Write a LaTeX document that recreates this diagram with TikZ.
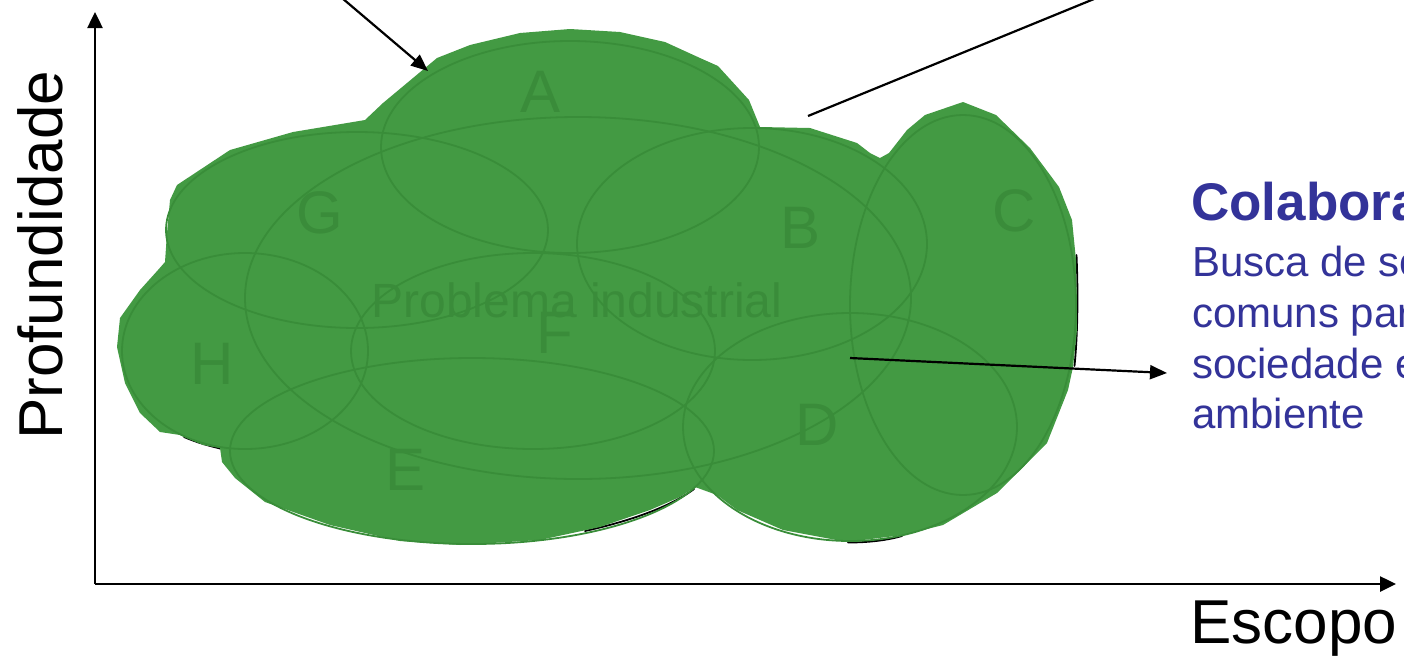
\documentclass[tikz,border=0pt]{standalone}
\usepackage{fontspec}
\setmainfont{Liberation Sans}
\usetikzlibrary{arrows.meta,shapes.geometric}
\definecolor{cloudgreen}{RGB}{67,154,67}
\definecolor{ringgreen}{RGB}{57,141,57}
\definecolor{labgreen}{RGB}{58,140,58}
\definecolor{navy}{RGB}{51,51,153}
\tikzset{
  ring/.style={ellipse, draw=ringgreen, line width=1.8pt, inner sep=0pt},
  biglabel/.style={text=labgreen, font=\fontsize{60}{60}\selectfont, inner sep=0pt},
  problabel/.style={text=labgreen, font=\fontsize{48}{48}\selectfont, inner sep=0pt},
  axislabel/.style={font=\fontsize{62}{62}\selectfont, inner sep=0pt},
  titletext/.style={text=navy, font=\bfseries\fontsize{53}{53}\selectfont, inner sep=0pt, anchor=base west},
  bodytext/.style={text=navy, font=\fontsize{42}{42}\selectfont, inner sep=0pt, anchor=base west},
  axisarrow/.style={line width=2.5pt, -{Triangle[length=16pt,width=15pt]}},
  pointer/.style={line width=2.2pt, -{Triangle[length=17pt,width=14pt]}},
  plainline/.style={line width=2.2pt},
  shadowline/.style={black, line width=1.8pt, line cap=round}
}
\begin{document}
\begin{tikzpicture}[x=1pt,y=-1pt]
\useasboundingbox (0,0) rectangle (1404,657);
\def\cloudpath{(165,262) -- (167,233) -- (170,200) -- (177,185) -- (230,150) -- (293,132) -- (365,120) -- (383,103) -- (437,58) -- (470,45) -- (520,33) -- (570,29) -- (620,32) -- (665,42) -- (700,58) -- (718,66) -- (749,100) -- (760,127) -- (810,128) -- (857,143) -- (870,153) -- (880,158) -- (889,153) -- (907,130) -- (925,115) -- (963,102) -- (996,115) -- (1030,148) -- (1059,187) -- (1072,220) -- (1076,260) -- (1077,330) -- (1073,367) -- (1068,390) -- (1047,443) -- (1017,473) -- (997,493) -- (943,525) -- (903,535) -- (847,542) -- (783,530) -- (737,510) -- (717,495) -- (695,487) -- (680,497) -- (650,510) -- (600,527) -- (540,540) -- (460,545) -- (400,541) -- (330,525) -- (265,502) -- (235,478) -- (222,462) -- (220,448) -- (203,445) -- (180,435) -- (160,432) -- (140,413) -- (125,383) -- (117,347) -- (120,318) -- (140,290) -- (158,270) -- cycle}
% dark outline peeking out under the cloud
\draw[shadowline] (184,437) .. controls (198,443) and (210,446) .. (220,448.5);
\draw[shadowline] (585,531) .. controls (630,521) and (670,507) .. (694,489);
\draw[shadowline] (848,542.5) .. controls (870,542.5) and (888,540) .. (902,536);
\draw[shadowline] (1076.5,255) .. controls (1078,290) and (1078,330) .. (1074.5,366);
\fill[cloudgreen] \cloudpath;
% ellipses
\node[ring, minimum width=378, minimum height=212] (eA) at (570,147) {};
\node[ring, minimum width=382, minimum height=196] (eG) at (357,230) {};
\node[ring, minimum width=666, minimum height=362] (eP) at (578,298) {};
\node[ring, minimum width=350, minimum height=232] (eB) at (752,244) {};
\node[ring, minimum width=226, minimum height=380] (eC) at (963,305) {};
\node[ring, minimum width=334, minimum height=228] (eD) at (850,427) {};
\node[ring, minimum width=364, minimum height=196] (eF) at (533,351) {};
\node[ring, minimum width=246, minimum height=196] (eH) at (245,351) {};
\node[ring, minimum width=484, minimum height=186] (eE) at (472,451) {};
% labels
\node[biglabel] (lA) at (541,92) {A};
\node[biglabel] (lG) at (320,213) {G};
\node[biglabel] (lB) at (800,228) {B};
\node[biglabel] (lC) at (1014,211) {C};
\node[problabel] (lP) at (577,300) {Problema industrial};
\node[biglabel] (lF) at (555,333) {F};
\node[biglabel] (lH) at (212,364) {H};
\node[biglabel] (lD) at (817,425) {D};
\node[biglabel] (lE) at (406,470) {E};
% axes
\coordinate (O) at (95,584);
\coordinate (Ytop) at (95,12);
\coordinate (Xend) at (1396,584);
\draw[axisarrow] (O) -- (Ytop);
\draw[axisarrow] (O) -- (Xend);
\node[axislabel, rotate=90, anchor=base west] (prof) at (62,440) {Profundidade};
\node[axislabel, anchor=base west] (esc) at (1190,643) {Escopo};
% text on the right
\node[titletext] (tit) at (1191,220) {Colaboração};
\node[bodytext] (b1) at (1192,276) {Busca de soluções};
\node[bodytext] (b2) at (1192,327) {comuns para};
\node[bodytext] (b3) at (1192,378) {sociedade e meio};
\node[bodytext] (b4) at (1192,428) {ambiente};
% pointer lines
\coordinate (p1s) at (342,-2);
\coordinate (p1e) at (428,71);
\draw[pointer] (p1s) -- (p1e);
\coordinate (p2s) at (1094,-1);
\coordinate (p2e) at (808,116);
\draw[plainline] (p2s) -- (p2e);
\coordinate (p3s) at (850,358);
\coordinate (p3e) at (1167,373);
\draw[pointer] (p3s) -- (p3e);
\end{tikzpicture}
\end{document}
